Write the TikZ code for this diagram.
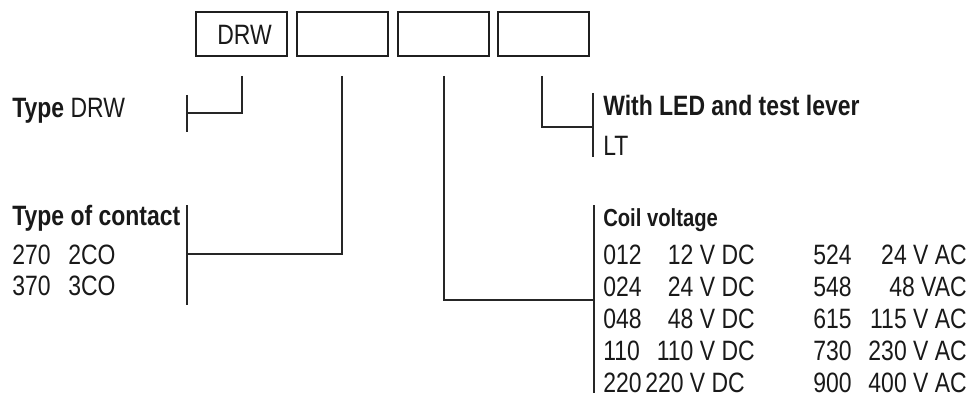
\documentclass[tikz,border=0pt]{standalone}
\usepackage{fontspec}
\setmainfont{Liberation Sans}[FakeStretch=0.82]
\begin{document}
\begin{tikzpicture}[x=0.75pt,y=-0.75pt,
  ink/.style={black!90},
  box/.style={draw=black!88,line width=1.5pt,minimum width=68pt,minimum height=33pt,inner sep=0pt,anchor=north west},
  conn/.style={draw=black!85,line width=1.2pt},
  txt/.style={ink,inner sep=0pt,anchor=base west,font=\fontsize{21pt}{25pt}\selectfont},
  hd/.style={txt,font=\fontsize{21pt}{25pt}\selectfont\bfseries},
  rtxt/.style={txt,anchor=base east}]
\useasboundingbox (0,0) rectangle (974,399);
% boxes
\node[box] (b1) at (195,11) {};
\node[box] (b2) at (296,11) {};
\node[box] (b3) at (397,11) {};
\node[box] (b4) at (497,11) {};
\node[txt] (drw) at (217,45) {DRW};
% connector coordinates
\coordinate (t1) at (242,76);
\coordinate (t2) at (342,76);
\coordinate (t3) at (444,76);
\coordinate (t4) at (542,76);
\coordinate (a1) at (187,95);  \coordinate (a1e) at (187,132); \coordinate (j1) at (187,113);
\coordinate (a2) at (187,205); \coordinate (a2e) at (187,305); \coordinate (j2) at (187,254);
\coordinate (a3) at (594,205); \coordinate (a3e) at (594,393); \coordinate (j3) at (594,300);
\coordinate (a4) at (593,93);  \coordinate (a4e) at (593,157); \coordinate (j4) at (593,127);
% bars
\draw[conn] (a1) -- (a1e);
\draw[conn] (a2) -- (a2e);
\draw[conn] (a3) -- (a3e);
\draw[conn] (a4) -- (a4e);
% connectors
\draw[conn] (t1) |- (j1);
\draw[conn] (t2) |- (j2);
\draw[conn] (t3) |- (j3);
\draw[conn] (t4) |- (j4);
% left texts
\node[txt] (typ) at (12,118) {\textbf{Type} DRW};
\node[hd] (toc) at (12,225) {Type of contact};
\node[txt] (c1) at (12,264) {270};
\node[txt] (c1v) at (68,264) {2CO};
\node[txt] (c2) at (12,295) {370};
\node[txt] (c2v) at (68,295) {3CO};
% right texts
\node[hd] (led) at (603,116) {With LED and test lever};
\node[txt] (lt) at (603,156) {LT};
\node[hd,font=\fontsize{18.5pt}{22pt}\selectfont\bfseries] (coil) at (603,226) {Coil voltage};
\node[txt] (r1) at (603,264) {012};
\node[rtxt] (r1v) at (755,264) {12 V DC};
\node[txt] (r2) at (603,296) {024};
\node[rtxt] (r2v) at (755,296) {24 V DC};
\node[txt] (r3) at (603,328) {048};
\node[rtxt] (r3v) at (755,328) {48 V DC};
\node[txt] (r4) at (603,360) {110};
\node[rtxt] (r4v) at (755,360) {110 V DC};
\node[txt] (r5) at (603,392) {220};
\node[txt] (r5v) at (645,392) {220 V DC};
\node[txt] (s1) at (813,264) {524};
\node[rtxt] (s1v) at (967,264) {24 V AC};
\node[txt] (s2) at (813,296) {548};
\node[rtxt] (s2v) at (967,296) {48 VAC};
\node[txt] (s3) at (813,328) {615};
\node[rtxt] (s3v) at (967,328) {115 V AC};
\node[txt] (s4) at (813,360) {730};
\node[rtxt] (s4v) at (967,360) {230 V AC};
\node[txt] (s5) at (813,392) {900};
\node[rtxt] (s5v) at (967,392) {400 V AC};
\end{tikzpicture}
\end{document}
